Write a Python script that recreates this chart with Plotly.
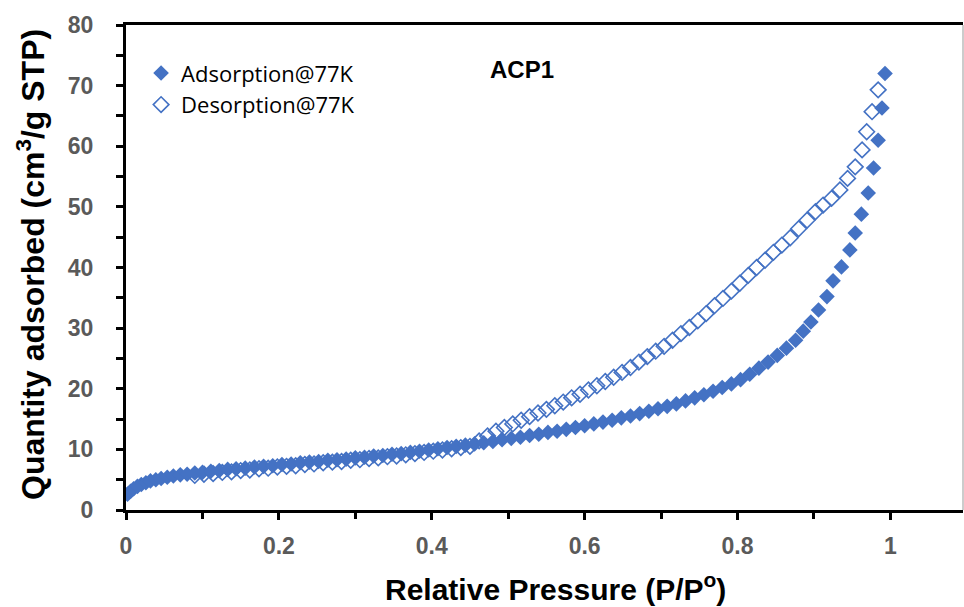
import plotly.graph_objects as go

# ---------------- data ----------------
ads_p = [0.002, 0.006, 0.010, 0.015, 0.020, 0.026, 0.032, 0.039, 0.046, 0.054,
         0.062, 0.071, 0.080, 0.090, 0.100, 0.111, 0.122, 0.133, 0.144, 0.156,
         0.168, 0.180, 0.192, 0.204, 0.216, 0.228, 0.240, 0.252, 0.264, 0.276,
         0.288, 0.300, 0.312, 0.324, 0.336, 0.348, 0.360, 0.372, 0.384, 0.396,
         0.408, 0.420, 0.432, 0.444, 0.456, 0.468, 0.480, 0.492, 0.504, 0.516,
         0.528, 0.540, 0.552, 0.564, 0.576, 0.588, 0.600, 0.612, 0.624, 0.636,
         0.648, 0.660, 0.672, 0.684, 0.696, 0.708, 0.720, 0.732, 0.744, 0.756,
         0.768, 0.780, 0.792, 0.804, 0.816, 0.828, 0.840, 0.852, 0.864, 0.876,
         0.886, 0.896, 0.906, 0.917, 0.925, 0.936, 0.947, 0.954, 0.962, 0.971,
         0.978, 0.984, 0.989, 0.993]
ads_q = [2.6, 3.1, 3.5, 3.9, 4.2, 4.5, 4.8, 5.0, 5.2, 5.4,
         5.6, 5.8, 5.9, 6.1, 6.2, 6.4, 6.5, 6.7, 6.8, 6.9,
         7.1, 7.2, 7.3, 7.5, 7.6, 7.8, 7.9, 8.0, 8.2, 8.3,
         8.4, 8.6, 8.7, 8.9, 9.0, 9.2, 9.3, 9.5, 9.7, 9.9,
         10.1, 10.3, 10.5, 10.7, 10.9, 11.1, 11.3, 11.6, 11.8, 12.0,
         12.3, 12.5, 12.8, 13.0, 13.3, 13.6, 13.9, 14.2, 14.5, 14.8,
         15.2, 15.5, 15.9, 16.3, 16.7, 17.1, 17.5, 18.0, 18.5, 19.0,
         19.6, 20.2, 20.8, 21.5, 22.4, 23.4, 24.4, 25.5, 26.7, 28.0,
         29.5, 31.0, 33.0, 35.2, 37.8, 40.1, 42.9, 45.7, 48.8, 52.3,
         56.4, 61.0, 66.3, 72.0]

des_p = [0.984, 0.976, 0.969, 0.963, 0.954, 0.944, 0.934, 0.923, 0.912, 0.902,
         0.891, 0.880, 0.869, 0.858, 0.847, 0.836, 0.825, 0.814, 0.803, 0.792,
         0.781, 0.770, 0.759, 0.748, 0.737, 0.726, 0.715, 0.704, 0.693, 0.682,
         0.671, 0.660, 0.649, 0.638, 0.627, 0.616, 0.605, 0.594, 0.583, 0.572,
         0.561, 0.550, 0.539, 0.528, 0.517, 0.506, 0.495, 0.484, 0.473, 0.462,
         0.450, 0.438, 0.426, 0.414, 0.402, 0.390, 0.378, 0.366, 0.354, 0.342,
         0.330, 0.318, 0.306, 0.294, 0.282, 0.270, 0.258, 0.246, 0.234, 0.222,
         0.210, 0.198, 0.186, 0.174, 0.162, 0.150, 0.138, 0.126, 0.114, 0.102,
         0.090]
des_q = [69.3, 65.7, 62.4, 59.4, 56.6, 54.7, 52.8, 51.4, 50.3, 49.2,
         47.8, 46.4, 44.9, 43.7, 42.5, 41.2, 40.0, 38.7, 37.4, 36.1,
         34.9, 33.7, 32.4, 31.2, 30.1, 29.1, 28.0, 27.0, 26.2, 25.3,
         24.4, 23.5, 22.7, 21.9, 21.2, 20.5, 19.8, 19.1, 18.5, 17.8,
         17.2, 16.6, 16.0, 15.4, 14.8, 14.2, 13.6, 13.0, 12.2, 11.4,
         10.5, 10.3, 10.1, 9.9, 9.7, 9.5, 9.3, 9.1, 8.9, 8.8,
         8.6, 8.5, 8.3, 8.2, 8.0, 7.9, 7.8, 7.6, 7.5, 7.3,
         7.2, 7.1, 6.9, 6.8, 6.6, 6.5, 6.3, 6.2, 6.0, 5.9,
         5.7]

x_ticks = [0, 0.2, 0.4, 0.6, 0.8, 1]
x_tick_labels = ["0", "0.2", "0.4", "0.6", "0.8", "1"]
y_ticks = [0, 10, 20, 30, 40, 50, 60, 70, 80]

BLUE = "#4472C4"
TICK_FONT = dict(family="Liberation Sans Narrow, Liberation Sans, Arial", size=23,
                 color="#5a5a5a", weight="bold")

fig = go.Figure()
fig.add_trace(go.Scatter(
    x=des_p, y=des_q, mode="markers", name="Desorption@77K",
    marker=dict(symbol="diamond-open", size=12, color=BLUE,
                line=dict(width=1.6, color="#5580CC")),
))
fig.add_trace(go.Scatter(
    x=ads_p, y=ads_q, mode="markers", name="Adsorption@77K",
    marker=dict(symbol="diamond", size=12, color=BLUE, line=dict(width=0)),
))

fig.update_layout(
    width=964, height=607,
    margin=dict(l=126, r=1, t=25, b=97),
    paper_bgcolor="white", plot_bgcolor="white",
    showlegend=True,
    legend=dict(x=0.018, y=0.944, xanchor="left", yanchor="top",
                traceorder="reversed",
                font=dict(family="Open Sans, Noto Sans", size=22, color="black"),
                bgcolor="rgba(0,0,0,0)", itemwidth=30, tracegroupgap=0),
    xaxis=dict(range=[0, 1.095], tickvals=x_ticks, ticktext=x_tick_labels,
               showgrid=False, zeroline=False, showline=True, linecolor="black",
               linewidth=3, mirror=True, ticks="outside", ticklen=7, tickwidth=2.5,
               tickcolor="black", tickfont=TICK_FONT, ticklabelstandoff=6,
               minor=dict(dtick=0.1, tick0=0, ticks="outside", ticklen=6,
                          tickwidth=2.5, tickcolor="black")),
    yaxis=dict(range=[0, 80], tickvals=y_ticks, showgrid=False, zeroline=False,
               showline=True, linecolor="black", linewidth=3,
               ticks="outside", ticklen=7, tickwidth=2.5, tickcolor="black",
               tickfont=TICK_FONT, ticklabelstandoff=18,
               minor=dict(dtick=5, tick0=0, ticks="outside", ticklen=7,
                          tickwidth=2.5, tickcolor="black")),
    shapes=[dict(type="line", xref="paper", yref="paper", x0=1, x1=1, y0=0, y1=1,
                 line=dict(color="#bbbbbb", width=1.5))],
    annotations=[
        dict(text="Relative Pressure (P/P<sup>o</sup>)", xref="paper", yref="paper",
             x=(555 - 126) / 837, y=-(587 - 510) / 485, xanchor="center", yanchor="middle",
             showarrow=False,
             font=dict(family="Liberation Sans, Arial", size=30, color="black", weight="bold")),
        dict(text="Quantity adsorbed (cm<sup>3</sup>/g STP)", xref="paper", yref="paper",
             x=-(126 - 31) / 837, y=(510 - 265) / 485, xanchor="center", yanchor="middle",
             textangle=-90, showarrow=False,
             font=dict(family="Liberation Sans, Arial", size=32, color="black", weight="bold")),
        dict(text="ACP1", xref="paper", yref="paper",
             x=(522 - 126) / 837, y=(510 - 69) / 485, xanchor="center", yanchor="middle",
             showarrow=False,
             font=dict(family="Liberation Sans, Arial", size=24, color="black", weight="bold")),
    ],
)

fig.write_html("out.html")
